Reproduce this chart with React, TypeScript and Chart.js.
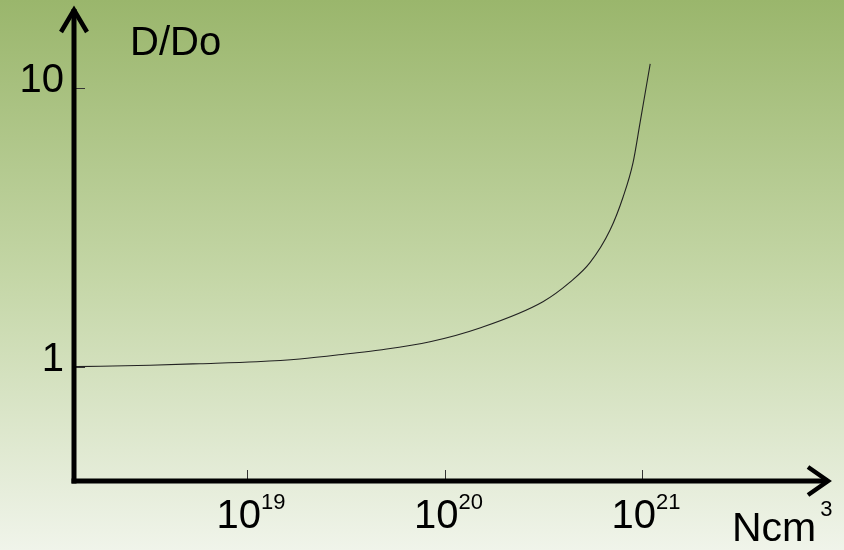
import React, { useEffect, useRef } from "react";
import { Chart, registerables } from "chart.js";

Chart.register(...registerables);

// Data (carrier concentration in cm^-3 vs D/Do)
const concentration = [
  1.36e18, 3.23e18, 5.78e18, 1.12e19, 1.85e19, 3.33e19, 4.71e19, 8.45e19,
  1.51e20, 3.15e20, 4.32e20, 5.45e20, 6.89e20, 8.02e20, 9.0e20, 9.77e20, 1.1e21,
];
const ratio = [
  1.0, 1.012, 1.025, 1.042, 1.066, 1.115, 1.148, 1.229,
  1.377, 1.71, 2.01, 2.36, 3.09, 4.06, 5.38, 7.49, 12.2,
];

const xTickValues = [1e19, 1e20, 1e21];
const xTickExponents = ["19", "20", "21"];
const yTickValues = [1, 10];
const yTickLabels = ["1", "10"];
const xAxisTitle = "Ncm";
const xAxisTitleSup = "3";
const yAxisTitle = "D/Do";

const X_MIN = 1.33e18;
const X_MAX = 8.95e21;
const Y_MIN = 0.389;
const Y_MAX = 19.5;

const FONT = "'Liberation Sans', Arial, Helvetica, sans-serif";

const decorPlugin = {
  id: "decor",
  beforeDraw(chart: any) {
    const { ctx, width, height } = chart;
    const g = ctx.createLinearGradient(0, 0, 0, height);
    g.addColorStop(0, "rgb(154,182,108)");
    g.addColorStop(0.5, "rgb(196,214,166)");
    g.addColorStop(1, "rgb(240,244,234)");
    ctx.save();
    ctx.fillStyle = g;
    ctx.fillRect(0, 0, width, height);
    ctx.restore();
  },
  afterDraw(chart: any) {
    const { ctx, chartArea } = chart;
    const { left, right, top, bottom } = chartArea;
    const xs = chart.scales.x;
    const ys = chart.scales.y;
    ctx.save();

    // ticks
    ctx.strokeStyle = "#333";
    ctx.lineWidth = 1;
    yTickValues.forEach((v) => {
      const py = Math.round(ys.getPixelForValue(v)) + 0.5;
      ctx.beginPath();
      ctx.moveTo(left, py);
      ctx.lineTo(left + 11, py);
      ctx.stroke();
    });
    xTickValues.forEach((v) => {
      const px = Math.round(xs.getPixelForValue(v)) + 0.5;
      ctx.beginPath();
      ctx.moveTo(px, bottom);
      ctx.lineTo(px, bottom - 11);
      ctx.stroke();
    });

    // axes
    ctx.strokeStyle = "#000";
    ctx.lineWidth = 5;
    ctx.lineCap = "butt";
    ctx.lineJoin = "miter";
    ctx.beginPath();
    ctx.moveTo(left, bottom + 2.5);
    ctx.lineTo(left, top + 2);
    ctx.stroke();
    ctx.beginPath();
    ctx.moveTo(left - 2.5, bottom);
    ctx.lineTo(right - 2, bottom);
    ctx.stroke();

    // arrow heads
    ctx.lineWidth = 4.5;
    ctx.beginPath();
    ctx.moveTo(left - 13, top + 25);
    ctx.lineTo(left, top + 3);
    ctx.lineTo(left + 13, top + 25);
    ctx.stroke();
    ctx.beginPath();
    ctx.moveTo(right - 22, bottom - 14);
    ctx.lineTo(right - 2, bottom);
    ctx.lineTo(right - 22, bottom + 14);
    ctx.stroke();

    // y tick labels
    ctx.fillStyle = "#000";
    ctx.font = `40px ${FONT}`;
    ctx.textAlign = "right";
    ctx.textBaseline = "alphabetic";
    yTickValues.forEach((v, i) => {
      const py = ys.getPixelForValue(v);
      ctx.fillText(yTickLabels[i], left - 10, py + 4);
    });

    // x tick labels: 10^n
    xTickValues.forEach((v, i) => {
      const px = xs.getPixelForValue(v);
      ctx.font = `40px ${FONT}`;
      const w1 = ctx.measureText("10").width;
      ctx.font = `22px ${FONT}`;
      const w2 = ctx.measureText(xTickExponents[i]).width;
      const start = px + 4 - (w1 + w2) / 2;
      ctx.textAlign = "left";
      ctx.font = `40px ${FONT}`;
      ctx.fillText("10", start, bottom + 47);
      ctx.font = `22px ${FONT}`;
      ctx.fillText(xTickExponents[i], start + w1, bottom + 28);
    });

    // axis titles
    ctx.textAlign = "left";
    ctx.font = `41px ${FONT}`;
    const nx = right - 98;
    ctx.fillText(xAxisTitle, nx, bottom + 60);
    const wn = ctx.measureText(xAxisTitle).width;
    ctx.font = `22px ${FONT}`;
    ctx.fillText(xAxisTitleSup, nx + wn + 4, bottom + 35);

    ctx.font = `40px ${FONT}`;
    ctx.fillText(yAxisTitle, left + 56, top + 48);

    ctx.restore();
  },
};

export default function App() {
  const ref = useRef<HTMLCanvasElement | null>(null);

  useEffect(() => {
    if (!ref.current) return;
    const chart = new Chart(ref.current, {
      type: "line",
      data: {
        datasets: [
          {
            data: concentration.map((x, i) => ({ x, y: ratio[i] })),
            borderColor: "#222",
            borderWidth: 1.1,
            pointRadius: 0,
            cubicInterpolationMode: "monotone",
            fill: false,
          },
        ],
      },
      options: {
        responsive: false,
        animation: false,
        layout: { padding: { left: 74, right: 14, top: 7, bottom: 69 } },
        plugins: { legend: { display: false }, tooltip: { enabled: false } },
        scales: {
          x: { type: "logarithmic", min: X_MIN, max: X_MAX, display: false },
          y: { type: "logarithmic", min: Y_MIN, max: Y_MAX, display: false },
        },
      },
      plugins: [decorPlugin],
    } as any);
    return () => chart.destroy();
  }, []);

  return (
    <div style={{ position: "fixed", left: 0, top: 0, width: 844, height: 550 }}>
      <canvas ref={ref} width={844} height={550} />
    </div>
  );
}
